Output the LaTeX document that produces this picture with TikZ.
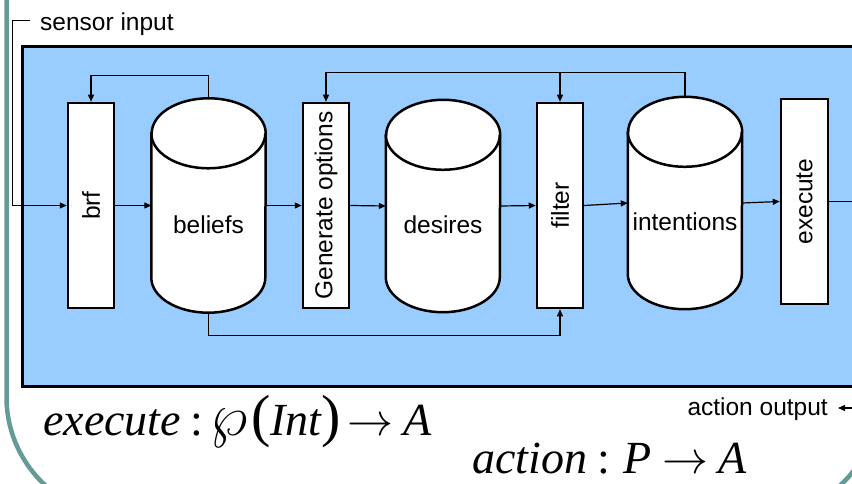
\documentclass[tikz,border=0pt]{standalone}
\usepackage{fix-cm}
\usepackage{graphicx}
\usepackage{fontspec}
\setmainfont{Liberation Sans}
\newfontfamily\timesfam{Liberation Serif}
\usetikzlibrary{arrows.meta,calc}
\definecolor{bluefill}{RGB}{153,204,255}
\definecolor{framecol}{RGB}{100,155,150}
\newcommand\drawcyl[1]{%
  \draw[line width=2.5pt,fill=white] ($(#1.north west)+(0,-35)$) -- ($(#1.south west)+(0,35)$)
    arc[start angle=180,end angle=360,x radius=57,y radius=35] -- ($(#1.north east)+(0,-35)$)
    arc[start angle=0,end angle=180,x radius=57,y radius=35] -- cycle;
  \draw[line width=2.5pt] ($(#1.north west)+(0,-35)$) arc[start angle=180,end angle=360,x radius=57,y radius=35];
}
\newcommand\bigparen[1]{{\fontsize{58}{60}\selectfont#1}}
\begin{document}
\begin{tikzpicture}[x=1pt,y=1pt,
  lbl/.style={font=\fontsize{24.5}{28}\selectfont,inner sep=0pt},
  box/.style={draw=black,fill=white,line width=2.5pt,minimum width=46pt,minimum height=205pt,inner sep=0pt,font=\fontsize{24.5}{28}\selectfont},
  store/.style={minimum width=114pt,inner sep=0pt},
  conn/.style={line width=1.2pt},
  tip/.style={-{Triangle[length=7pt,width=6pt]}},
  formula/.style={inner sep=0pt,font=\fontsize{46}{52}\selectfont\timesfam},
]
\useasboundingbox (0,0) rectangle (852,483);
\clip (0,0) rectangle (852,483);
% outer frame and blue panel
\draw[framecol,line width=4.5pt,rounded corners=120pt] (6.5,700) rectangle (879,-34);
\draw[fill=bluefill,line width=3pt] (22.5,436.5) rectangle (875,96.5);
% boxes
\node[box] (brf) at (91,277.5) {\rotatebox{90}{brf}};
\node[box] (gen) at (326,277.5) {\rotatebox{90}{Generate options}};
\node[box] (filter) at (560,277.5) {\rotatebox{90}{filter}};
\node[box,minimum width=47pt] (exec) at (804.5,281.5) {\rotatebox{90}{execute}};
% stores
\node[store,minimum height=214pt] (beliefs) at (208.5,277.5) {};
\node[store,minimum height=212pt] (desires) at (443,277) {};
\node[store,minimum height=212pt] (intent) at (685,280) {};
\drawcyl{beliefs}
\drawcyl{desires}
\drawcyl{intent}
\node[lbl] (beliefsT) at ([yshift=-19pt]beliefs.center) {beliefs};
\node[lbl] (desiresT) at ([yshift=-19pt]desires.center) {desires};
\node[lbl] (intentT) at ([yshift=-19pt]intent.center) {intentions};
% main flow
\coordinate (s0) at (30,462);
\coordinate (s1) at (12,462);
\draw[line width=1pt,tip] (s0) -- (s1) |- (brf.west);
\draw[conn,tip] (brf.east) -- (beliefs.west);
\draw[conn,tip] (beliefs.east) -- (gen.west);
\draw[conn,tip] (gen.east) -- (desires.west);
\draw[conn,tip] (desires.east) -- (filter.west);
\draw[conn,tip] (filter.east) -- (intent.west);
\draw[conn,tip] (intent.east) -- (exec.west);
\coordinate (aout) at (838,75);
\draw[conn,tip] (exec.east) -- ++(50,0) |- (aout);
% feedback
\draw[conn,tip] (beliefs.north) -- ++(0,23) -| (brf.north);
\coordinate (t2) at ($(intent.north)+(0,24)$);
\draw[conn,tip] (intent.north) -- (t2) -| (gen.north);
\draw[conn,tip] (filter.north |- t2) -- (filter.north);
\draw[conn,tip] (beliefs.south) -- ++(0,-23) -| (filter.south);
% texts
\node[lbl,anchor=base west] (sensT) at (40,452.5) {sensor input};
\node[lbl,anchor=base east] (aoutT) at (828,68) {action output};
\node[formula,anchor=base west] (f1) at (43,48) {\itshape execute\upshape\hspace{9pt}:\hspace{8pt}\scalebox{1.3}{$\wp$}\hspace{3pt}\bigparen{(}\itshape Int\upshape\bigparen{)}\hspace{7pt}$\rightarrow$\hspace{10pt}\itshape A};
\node[formula,anchor=base west] (f2) at (472,10) {\itshape action\upshape\hspace{10pt}:\hspace{14pt}\itshape P\upshape\hspace{10pt}$\rightarrow$\hspace{10pt}\itshape A};
\end{tikzpicture}
\end{document}
